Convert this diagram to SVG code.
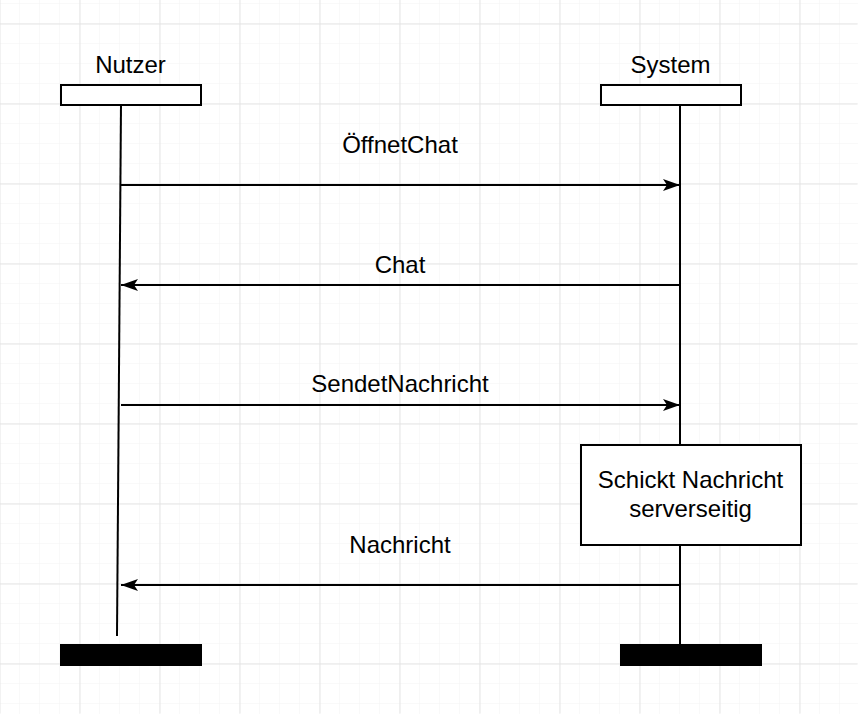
<svg xmlns="http://www.w3.org/2000/svg" width="858" height="714" viewBox="0 0 858 714">
<defs>
<pattern id="minor" x="0" y="4" width="20" height="20" patternUnits="userSpaceOnUse">
<path d="M20 0V20M0 20H20" fill="none" stroke="#f3f3f3" stroke-width="1"/>
</pattern>
<pattern id="major" x="0" y="24" width="80" height="80" patternUnits="userSpaceOnUse">
<path d="M0.5 0V80M0 0.5H80" fill="none" stroke="#e4e4e4" stroke-width="1"/>
</pattern>
<marker id="ah" viewBox="0 0 18 12" refX="17" refY="6" markerWidth="18" markerHeight="12" markerUnits="userSpaceOnUse" orient="auto">
<path d="M0 0L17 6L0 12L4 6Z" fill="#000"/>
</marker>
<style>
.t{font-family:"Liberation Sans",Arial,sans-serif;font-size:24px;fill:#000;text-anchor:middle}
.hd{fill:#fff;stroke:#000;stroke-width:2}
.ll{stroke:#000;stroke-width:2;fill:none}
.msg{stroke:#000;stroke-width:2;fill:none;marker-end:url(#ah)}
</style>
</defs>
<rect width="858" height="714" fill="#fff"/>
<rect width="858" height="714" fill="url(#minor)"/>
<rect x="0" y="0" width="858" height="714" fill="url(#major)" transform="translate(-0.5,-0.5)"/>
<g id="connectors">
<path class="ll" d="M121 105L117 636"/>
<path class="ll" d="M680 105V445M680 545V644"/>
<path class="msg" d="M121 185H680"/>
<path class="msg" d="M680 285H121"/>
<path class="msg" d="M121 405H680"/>
<path class="msg" d="M680 585H121"/>
<text class="t" x="400" y="153">ÖffnetChat</text>
<text class="t" x="400" y="273">Chat</text>
<text class="t" x="400" y="392">SendetNachricht</text>
<text class="t" x="400" y="553">Nachricht</text>
</g>
<g id="nutzer">
<text class="t" x="130.5" y="73">Nutzer</text>
<rect class="hd" x="61" y="85" width="140" height="20"/>
<rect x="60" y="644" width="142" height="22" fill="#000"/>
</g>
<g id="system">
<text class="t" x="670.5" y="73">System</text>
<rect class="hd" x="601" y="85" width="140" height="20"/>
<rect x="620" y="644" width="142" height="22" fill="#000"/>
</g>
<g id="schickt">
<rect class="hd" x="581" y="445" width="220" height="100"/>
<text class="t" x="690.5" y="488">Schickt Nachricht</text>
<text class="t" x="690.5" y="517">serverseitig</text>
</g>
</svg>
